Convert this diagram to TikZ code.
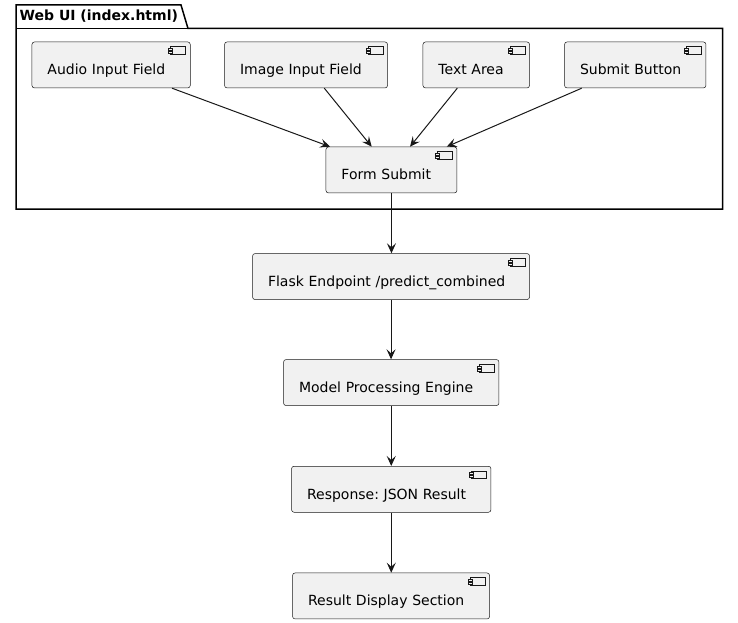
\documentclass[tikz,border=0pt]{standalone}
\usepackage{fontspec}
\setmainfont{DejaVu Sans}
\usetikzlibrary{arrows.meta}
\definecolor{cline}{HTML}{181818}
\definecolor{cfill}{HTML}{F1F1F1}
\frenchspacing
\tikzset{
  comp/.style={draw=cline, line width=0.5pt, fill=cfill, rounded corners=2.5pt,
    inner xsep=15.5pt, inner ysep=0pt, text height=33pt, text depth=13pt,
    align=left, anchor=north west, font=\fontsize{14pt}{16pt}\selectfont\frenchspacing},
  iconpart/.style={draw=cline, line width=0.5pt, fill=cfill},
  flow/.style={draw=cline, line width=1pt, -{Stealth[length=10pt,width=9pt,inset=4pt]}},
  pkg/.style={draw=black, line width=1.5pt, line join=miter}
}
\newcommand\compicon[1]{%
  \draw[iconpart] ([xshift=-20pt,yshift=-5pt]#1.north east) rectangle ++(15,7.5);
  \draw[iconpart] ([xshift=-22pt,yshift=-6.5pt]#1.north east) rectangle ++(4,2);
  \draw[iconpart] ([xshift=-22pt,yshift=-9.5pt]#1.north east) rectangle ++(4,2);
}
\begin{document}
\begin{tikzpicture}[x=1pt,y=-1pt]
\useasboundingbox (0,0) rectangle (738,623);
% package
\draw[pkg] (16,28.5) -- (16,5) -- (181,5) -- (188,28.5) -- (722.7,28.5) -- (722.7,209) -- (16,209) -- cycle;
\draw[pkg] (16,28.5) -- (188,28.5);
\node[anchor=base west, inner sep=0pt, font=\fontsize{14pt}{16pt}\selectfont\bfseries] (pkgtitle) at (19.5,20.5) {Web UI (index.html)};
% components
\node[comp, text width=127.3pt] (audio) at (31.7,41.7) {Audio Input Field};
\node[comp, text width=132pt] (image) at (224.3,41.7) {Image Input Field};
\node[comp, text width=75.6pt] (textarea) at (422.7,41.7) {Text Area};
\node[comp, text width=110.4pt] (submit) at (564.3,41.7) {Submit Button};
\node[comp, text width=100pt] (form) at (325.7,146.7) {Form Submit};
\node[comp, text width=246pt] (flask) at (252.3,253.3) {Flask Endpoint /predict\_combined};
\node[comp, text width=184.4pt] (model) at (283.3,359.3) {Model Processing Engine};
\node[comp, text width=168.4pt] (response) at (291.3,466) {Response: JSON Result};
\node[comp, text width=166pt] (result) at (292.3,572.7) {Result Display Section};
\foreach \n in {audio,image,textarea,submit,form,flask,model,response,result}{\compicon{\n}}
% connectors
\draw[flow] ([xshift=140.3pt]audio.south west) -- ([xshift=4.3pt]form.north west);
\draw[flow] ([xshift=100pt]image.south west) -- ([xshift=46pt]form.north west);
\draw[flow] ([xshift=34.6pt]textarea.south west) -- ([xshift=84.3pt]form.north west);
\draw[flow] ([xshift=17.4pt]submit.south west) -- ([xshift=121pt]form.north west);
\draw[flow] (form.south) -- (form.south |- flask.north);
\draw[flow] (flask.south) -- (flask.south |- model.north);
\draw[flow] (model.south) -- (model.south |- response.north);
\draw[flow] (response.south) -- (response.south |- result.north);
\end{tikzpicture}
\end{document}
